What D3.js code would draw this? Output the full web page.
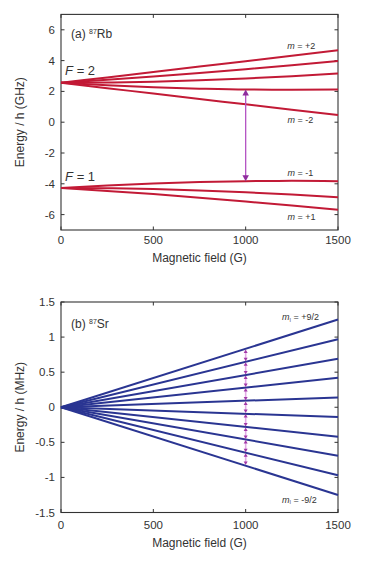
<!DOCTYPE html>
<html>
<head>
<meta charset="utf-8">
<script src="https://cdn.jsdelivr.net/npm/d3@7"></script>
<style>
  body { margin: 0; background: #fff; }
  svg text { font-family: "Liberation Sans", Arial, Helvetica, sans-serif; fill: #333; }
</style>
</head>
<body>
<div id="wrapper"></div>
<script>
// ---- data ----
// (a) 87Rb levels, sampled every 250 G
const rbField = [0, 250, 500, 750, 1000, 1250, 1500]
const rbF2 = [
  [2.56, 2.91, 3.26, 3.61, 3.96, 4.32, 4.67],   // m = +2
  [2.56, 2.75, 2.96, 3.19, 3.44, 3.70, 3.97],   // m = +1
  [2.56, 2.58, 2.63, 2.72, 2.84, 2.99, 3.16],   // m = 0
  [2.56, 2.40, 2.27, 2.18, 2.12, 2.11, 2.13],   // m = -1
  [2.56, 2.21, 1.86, 1.51, 1.16, 0.81, 0.46]    // m = -2
]
const rbF1 = [
  [-4.27, -4.11, -3.98, -3.89, -3.83, -3.81, -3.84],  // m = -1
  [-4.27, -4.29, -4.34, -4.43, -4.55, -4.69, -4.87],  // m = 0
  [-4.27, -4.46, -4.67, -4.90, -5.15, -5.41, -5.68]   // m = +1
]
const rbArrow = { field: 1000, from: -3.83, to: 2.12 }
const rbTicksY = [-6, -4, -2, 0, 2, 4, 6]

// (b) 87Sr levels (straight lines from the origin)
const srField = [0, 1500]
const srEnd = [1.25, 0.97, 0.69, 0.42, 0.14, -0.14, -0.42, -0.69, -0.97, -1.25]
const srAt1000 = [0.83, 0.65, 0.46, 0.28, 0.09, -0.09, -0.28, -0.46, -0.65, -0.83]
const srTicksY = [-1.5, -1, -0.5, 0, 0.5, 1, 1.5]
const srTickLabels = ["-1.5", "-1", "-0.5", "0", "0.5", "1", "1.5"]

const fieldTicks = [0, 500, 1000, 1500]

// ---- layout ----
const width = 365, height = 561
const svg = d3.select("#wrapper").append("svg")
  .attr("width", width).attr("height", height)

const xScale = d3.scaleLinear().domain([0, 1500]).range([61, 338])

function drawFrame(yScale, yTicks, yLabels, yTitle, xTickY, xTitleY) {
  const g = svg.append("g")
  const [x0, x1] = xScale.range()
  const [yb, yt] = yScale.range()
  const tk = 3.5
  // box
  g.append("rect")
    .attr("x", x0).attr("y", yt).attr("width", x1 - x0).attr("height", yb - yt)
    .attr("fill", "none").attr("stroke", "#333").attr("stroke-width", 1.1)
  // y ticks (inside, both sides)
  yTicks.forEach((t, i) => {
    const y = yScale(t)
    g.append("line").attr("x1", x0).attr("x2", x0 + tk).attr("y1", y).attr("y2", y)
      .attr("stroke", "#333")
    g.append("line").attr("x1", x1).attr("x2", x1 - tk).attr("y1", y).attr("y2", y)
      .attr("stroke", "#333")
    g.append("text").attr("x", 55).attr("y", y)
      .attr("text-anchor", "end").attr("dominant-baseline", "central")
      .style("font-size", "11.5px").text(yLabels[i])
  })
  // x ticks
  fieldTicks.forEach(t => {
    const x = xScale(t)
    g.append("line").attr("x1", x).attr("x2", x).attr("y1", yb).attr("y2", yb - tk)
      .attr("stroke", "#333")
    g.append("line").attr("x1", x).attr("x2", x).attr("y1", yt).attr("y2", yt + tk)
      .attr("stroke", "#333")
    g.append("text").attr("x", x).attr("y", xTickY)
      .attr("text-anchor", "middle").attr("dominant-baseline", "central")
      .style("font-size", "11.5px").text(t)
  })
  g.append("text").attr("x", (x0 + x1) / 2).attr("y", xTitleY)
    .attr("text-anchor", "middle").attr("dominant-baseline", "central")
    .style("font-size", "12px").text("Magnetic field (G)")
  g.append("text")
    .attr("transform", `translate(20,${(yb + yt) / 2}) rotate(-90)`)
    .attr("text-anchor", "middle").attr("dominant-baseline", "central")
    .style("font-size", "12px").text(yTitle)
}

function triangle(x, yTip, w, h, dir) {
  // dir = -1 points up, +1 points down
  const yb = yTip - dir * h
  return `M${x},${yTip}L${x - w / 2},${yb}L${x + w / 2},${yb}Z`
}

// ---------- panel (a) ----------
const yA = d3.scaleLinear().domain([-7, 7]).range([230, 14.4])
drawFrame(yA, rbTicksY, rbTicksY.map(String), "Energy / h (GHz)", 240, 258)

const lineA = d3.line()
  .x((d, i) => xScale(rbField[i]))
  .y(d => yA(d))
  .curve(d3.curveMonotoneX)

svg.append("g").selectAll("path")
  .data(rbF2.concat(rbF1))
  .join("path")
  .attr("d", lineA)
  .attr("fill", "none")
  .attr("stroke", "#c21a36")
  .attr("stroke-width", 2)

// transition arrow
const ax = xScale(rbArrow.field)
svg.append("line")
  .attr("x1", ax).attr("x2", ax)
  .attr("y1", yA(rbArrow.to) + 5).attr("y2", yA(rbArrow.from) - 5)
  .attr("stroke", "#b454c4").attr("stroke-width", 1.3)
svg.append("path").attr("d", triangle(ax, yA(rbArrow.to), 6.5, 6, -1)).attr("fill", "#8f2c9e")
svg.append("path").attr("d", triangle(ax, yA(rbArrow.from), 6.5, 6, 1)).attr("fill", "#8f2c9e")

// annotations
function mLabel(x, y, rest) {
  const t = svg.append("text").attr("x", x).attr("y", y)
    .attr("dominant-baseline", "central").style("font-size", "9px")
  t.append("tspan").style("font-style", "italic").text("m")
  t.append("tspan").text(rest)
}
mLabel(xScale(1225), yA(4.97), " = +2")
mLabel(xScale(1227), yA(0.15), " = -2")
mLabel(xScale(1227), yA(-3.33), " = -1")
mLabel(xScale(1227), yA(-6.13), " = +1")

function fLabel(x, y, val) {
  const t = svg.append("text").attr("x", x).attr("y", y).style("font-size", "13px")
  t.append("tspan").style("font-style", "italic").text("F")
  t.append("tspan").text(" = " + val)
}
fLabel(xScale(22), yA(3.08), "2")
fLabel(xScale(22), yA(-3.80), "1")

function panelLabel(y, pre, iso) {
  const t = svg.append("text").attr("x", 71).attr("y", y).style("font-size", "12px")
  t.append("tspan").text(pre + " ")
  t.append("tspan").attr("dy", -4).style("font-size", "7px").text("87")
  t.append("tspan").attr("dy", 4).text(iso)
}
panelLabel(38, "(a)", "Rb")

// ---------- panel (b) ----------
const yB = d3.scaleLinear().domain([-1.5, 1.5]).range([512.5, 302])
drawFrame(yB, srTicksY, srTickLabels, "Energy / h (MHz)", 524.5, 542.5)

const lineB = d3.line()
  .x((d, i) => xScale(srField[i]))
  .y(d => yB(d))

svg.append("g").selectAll("path")
  .data(srEnd.map(v => [0, v]))
  .join("path")
  .attr("d", lineB)
  .attr("fill", "none")
  .attr("stroke", "#2a3592")
  .attr("stroke-width", 2)

// small double arrows between neighbouring levels
const bx = xScale(1000)
const arrowsB = svg.append("g")
d3.range(srAt1000.length - 1).forEach(i => {
  const yTop = yB(srAt1000[i]), yBot = yB(srAt1000[i + 1])
  arrowsB.append("line").attr("x1", bx).attr("x2", bx)
    .attr("y1", yTop + 3).attr("y2", yBot - 3)
    .attr("stroke", "#e3a8e6").attr("stroke-width", 1.6)
  arrowsB.append("path").attr("d", triangle(bx, yTop + 0.5, 4, 3.5, -1)).attr("fill", "#a23aa8")
  arrowsB.append("path").attr("d", triangle(bx, yBot - 0.5, 4, 3.5, 1)).attr("fill", "#a23aa8")
})

function mILabel(x, y, rest) {
  const t = svg.append("text").attr("x", x).attr("y", y)
    .attr("dominant-baseline", "central").style("font-size", "9px")
  t.append("tspan").style("font-style", "italic").text("m")
  t.append("tspan").attr("dy", 2.5).style("font-size", "5px").text("I")
  t.append("tspan").attr("dy", -2.5).text(" = " + rest)
}
mILabel(282, yB(1.28), "+9/2")
mILabel(282, yB(-1.32), "-9/2")

panelLabel(328, "(b)", "Sr")
</script>
</body>
</html>
